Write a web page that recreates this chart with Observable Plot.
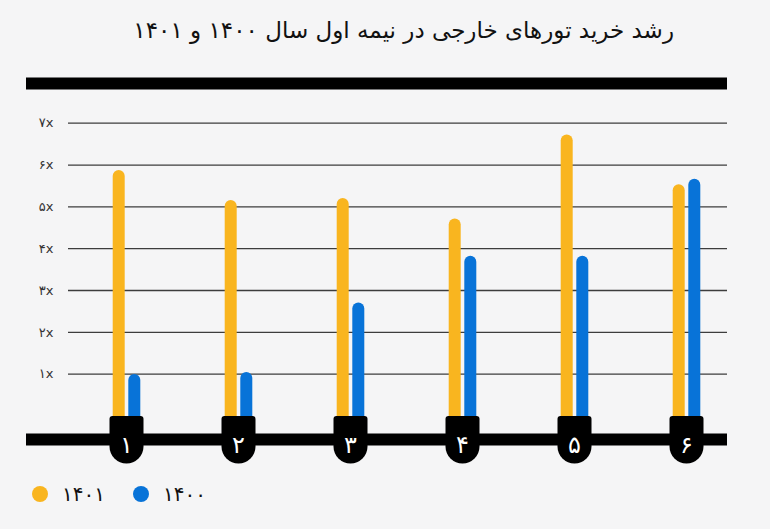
<!DOCTYPE html>
<html>
<head>
<meta charset="utf-8">
<script src="https://cdn.jsdelivr.net/npm/d3@7"></script>
<script src="https://cdn.jsdelivr.net/npm/@observablehq/plot@0.6"></script>
<style>
  html, body { margin: 0; padding: 0; background: #f5f5f6; }
  #wrap { position: relative; width: 770px; height: 529px; overflow: hidden; font-family: "DejaVu Sans", "Noto Sans", sans-serif; }
  #chart { position: absolute; left: 0; top: 0; }
  #title { position: absolute; top: 17px; right: 96px; direction: rtl; font-size: 23px; color: #111; white-space: nowrap; }
  #legend { position: absolute; left: 32px; top: 482px; display: flex; align-items: center; direction: ltr; }
  .sw { width: 16px; height: 16px; border-radius: 50%; display: inline-block; margin-right: 14px; }
  .lab { font-size: 20px; color: #111; margin-right: 28px; }
</style>
</head>
<body>
<div id="wrap">
  <div id="title">رشد خرید تورهای خارجی در نیمه اول سال ۱۴۰۰ و ۱۴۰۱</div>
  <div id="chart"></div>
  <div id="legend"></div>
</div>
<script>
const groups = ["۱", "۲", "۳", "۴", "۵", "۶"];
const values1401 = [5.87, 5.15, 5.2, 4.71, 6.72, 5.53];
const values1400 = [0.99, 1.04, 2.7, 3.82, 3.82, 5.66];
const seriesNames = ["۱۴۰۱", "۱۴۰۰"];
const seriesColors = ["#f9b51f", "#0873d8"];
const yTicks = [1, 2, 3, 4, 5, 6, 7];
const yTickLabels = ["۱x", "۲x", "۳x", "۴x", "۵x", "۶x", "۷x"];

const d1401 = groups.map((g, i) => ({group: g, value: values1401[i]}));
const d1400 = groups.map((g, i) => ({group: g, value: values1400[i]}));
const tickData = yTicks.map((t, i) => ({t, label: yTickLabels[i]}));

// capsule-shaped label background (flat top, round bottom)
const capsule = {
  draw(ctx, size) {
    const r = Math.sqrt(size / Math.PI);
    const c = 3;
    const h = 30.5;
    ctx.moveTo(-r, c);
    ctx.arcTo(-r, 0, -r + c, 0, c);
    ctx.lineTo(r - c, 0);
    ctx.arcTo(r, 0, r, c, c);
    ctx.lineTo(r, h);
    ctx.arc(0, h, r, 0, Math.PI, false);
    ctx.closePath();
  }
};

const chart = Plot.plot({
  width: 770,
  height: 529,
  marginLeft: 26,
  marginRight: 43,
  marginTop: 77,
  marginBottom: 60,
  style: {background: "transparent", fontFamily: "DejaVu Sans, sans-serif"},
  x: {type: "point", domain: groups, range: [126, 686], padding: 0, axis: null},
  y: {domain: [0, 7], range: [415.5, 122.7], axis: null},
  marks: [
    Plot.ruleY(yTicks, {stroke: "#3d3d3d", strokeWidth: 1.3, insetLeft: 42}),
    Plot.text(tickData, {y: "t", text: "label", frameAnchor: "left", dx: 27, textAnchor: "end", fontSize: 13, fill: "#333"}),
    Plot.ruleX(d1401, {x: "group", y1: 0, y2: "value", stroke: seriesColors[0], strokeWidth: 12, strokeLinecap: "round", dx: -7.8, dy: 6}),
    Plot.ruleX(d1400, {x: "group", y1: 0, y2: "value", stroke: seriesColors[1], strokeWidth: 12, strokeLinecap: "round", dx: 7.8, dy: 6}),
    Plot.ruleY([7], {stroke: "#000", strokeWidth: 12, dy: -39.7}),
    Plot.ruleY([0], {stroke: "#000", strokeWidth: 12, dy: 23.5}),
    Plot.dot(groups, {x: d => d, y: () => 0, r: 17, fill: "#000", symbol: capsule}),
    Plot.text(groups, {x: d => d, y: () => 0, text: d => d, dy: 29, fill: "#fff", fontSize: 24})
  ]
});
document.getElementById("chart").appendChild(chart);

const legend = document.getElementById("legend");
seriesNames.forEach((name, i) => {
  const sw = document.createElement("span");
  sw.className = "sw";
  sw.style.background = seriesColors[i];
  const lab = document.createElement("span");
  lab.className = "lab";
  lab.textContent = name;
  legend.appendChild(sw);
  legend.appendChild(lab);
});
</script>
</body>
</html>
